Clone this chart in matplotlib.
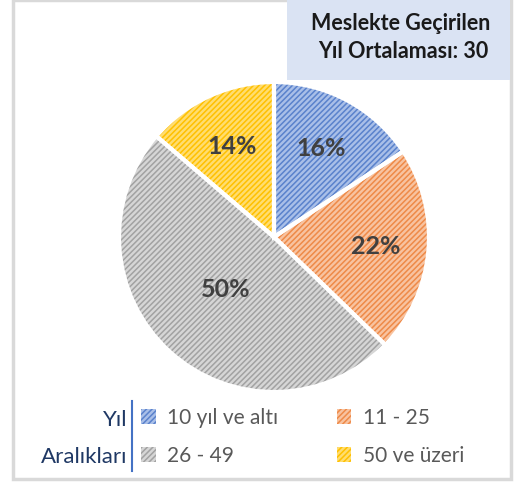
import matplotlib.pyplot as plt
import numpy as np
from matplotlib.patches import Rectangle
from matplotlib.lines import Line2D

# Meslekte geçirilen yıl aralıkları
categories = ["10 yıl ve altı", "11 - 25", "26 - 49", "50 ve üzeri"]
shares = [16, 22, 50, 14]
pct_labels = ["16%", "22%", "50%", "14%"]
title_lines = ["Meslekte Geçirilen", "Yıl Ortalaması: 30"]
legend_title = ["Yıl", "Aralıkları"]

light_colors = ["#A9BFE8", "#F8C3A0", "#D6D6D6", "#FFDD70"]
dark_colors = ["#5A82CC", "#EE8A48", "#A2A2A2", "#FFC000"]

plt.rcParams["font.family"] = ["Lato", "DejaVu Sans"]
plt.rcParams["hatch.linewidth"] = 1.1

W, H = 517, 484
fig = plt.figure(figsize=(W / 100, H / 100), dpi=100)


def fx(x):
    return x / W


def fy(y):
    return 1 - y / H


# çerçeve
fig.patches.append(Rectangle((fx(13), fy(479)), fx(498), 479 / H, transform=fig.transFigure,
                             facecolor="none", edgecolor="#D9D9D9", linewidth=2.5, zorder=0))

# pasta
cx, cy, r = 274, 237, 155
ax = fig.add_axes([fx(cx - r), fy(cy + r), 2 * r / W, 2 * r / H])
wedges, _ = ax.pie(shares, startangle=90, counterclock=False, colors=light_colors,
                   wedgeprops=dict(linewidth=0))
for w, dc in zip(wedges, dark_colors):
    w.set_edgecolor(dc)
    w.set_hatch("//////")
ax.pie(shares, startangle=90, counterclock=False, colors=["none"] * 4,
       wedgeprops=dict(edgecolor="white", linewidth=3))
ax.set_xlim(-1, 1)
ax.set_ylim(-1, 1)
ax.set_aspect("auto")
ax.axis("off")

# yüzde etiketleri
label_dist = [0.65, 0.66, 0.46, 0.64]
for w, txt, d in zip(wedges, pct_labels, label_dist):
    ang = np.deg2rad((w.theta1 + w.theta2) / 2)
    ax.text(d * np.cos(ang), d * np.sin(ang), txt, ha="center", va="center",
            fontsize=18, fontweight="bold", color="#404040")

# başlık kutusu
fig.patches.append(Rectangle((fx(287), fy(80)), fx(223), 80 / H, transform=fig.transFigure,
                             facecolor="#DAE3F3", edgecolor="none", zorder=1))
fig.text(fx(401), fy(23), title_lines[0], ha="center", va="center", fontsize=15.5,
         fontweight="bold", color="#1A1A1A")
fig.text(fx(403), fy(52), title_lines[1], ha="center", va="center", fontsize=15.5,
         fontweight="bold", color="#1A1A1A")

# lejant
fig.text(fx(127), fy(420), legend_title[0], ha="right", va="center", fontsize=16, color="#1F3864")
fig.text(fx(127), fy(457), legend_title[1], ha="right", va="center", fontsize=16, color="#1F3864")
fig.add_artist(Line2D([fx(132), fx(132)], [fy(401), fy(471)], transform=fig.transFigure,
                      color="#4472C4", linewidth=1.5))
order = [0, 2, 1, 3]
fig.legend([wedges[i] for i in order], [categories[i] for i in order], ncol=2,
           loc="upper left", bbox_to_anchor=(fx(141), fy(408)), frameon=False,
           borderpad=0, borderaxespad=0,
           fontsize=15, labelcolor="#595959", handlelength=0.7, handleheight=0.7,
           handletextpad=0.55, columnspacing=2.8, labelspacing=0.85)

fig.savefig("out.png", dpi=100)
